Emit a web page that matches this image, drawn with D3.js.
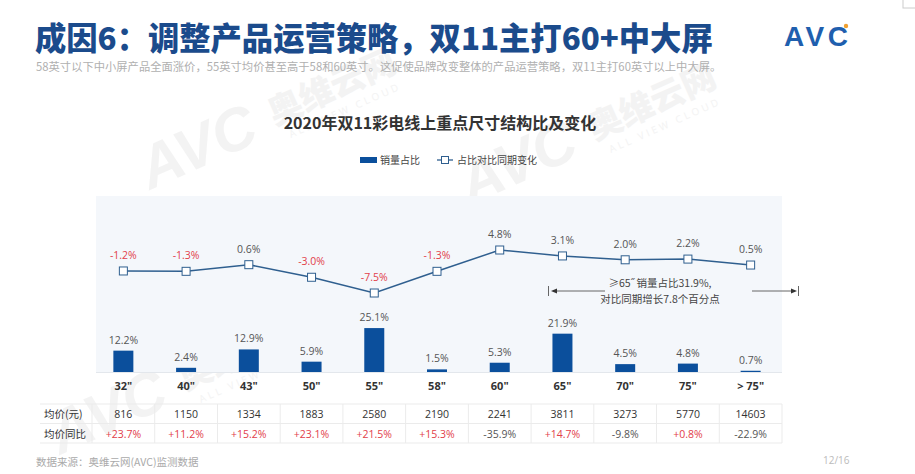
<!DOCTYPE html>
<html><head><meta charset="utf-8">
<script src="https://cdn.jsdelivr.net/npm/d3@7"></script>
<style>
html,body{margin:0;padding:0;background:#fff;}
svg{display:block;font-family:"Open Sans","Noto Sans CJK SC",sans-serif;}
</style></head>
<body>
<svg id="c" width="915" height="474"></svg>
<script>
const categories = ['32"','40"','43"','50"','55"','58"','60"','65"','70"','75"','> 75"'];
const share = [12.2,2.4,12.9,5.9,25.1,1.5,5.3,21.9,4.5,4.8,0.7];
const change = [-1.2,-1.3,0.6,-3.0,-7.5,-1.3,4.8,3.1,2.0,2.2,0.5];
const price = [816,1150,1334,1883,2580,2190,2241,3811,3273,5770,14603];
const priceYoY = [23.7,11.2,15.2,23.1,21.5,15.3,-35.9,14.7,-9.8,0.8,-22.9];
const rowLabels = ["均价(元)","均价同比"];

const svg = d3.select("#c");
const CJK = '"Noto Sans CJK SC",sans-serif';
const BLUE = "#0b4f9c", RED = "#e2404a", GRAY = "#555";

// watermarks
function watermark(x,y){
  const g = svg.append("g").attr("transform",`translate(${x},${y}) rotate(-24)`).attr("opacity",0.5);
  g.append("text").attr("x",0).attr("y",0).attr("font-size",60).attr("font-weight",900)
   .attr("font-style","italic").attr("fill","#e8e8e8").attr("font-family","Arial,sans-serif").text("AVC");
  g.append("text").attr("x",140).attr("y",-8).attr("font-size",34).attr("font-weight",900)
   .attr("fill","#e8e8e8").attr("font-family",CJK).text("奥维云网");
  g.append("text").attr("x",150).attr("y",10).attr("font-size",10).attr("letter-spacing",3)
   .attr("fill","#e8e8e8").text("ALL VIEW CLOUD");
}
watermark(150,190);
watermark(470,205);
watermark(60,455);

// header
svg.append("text").attr("x",35).attr("y",50).attr("font-size",31.3).attr("font-weight",900)
  .attr("fill","#1b4b8c").attr("font-family",CJK).text("成因6：调整产品运营策略，双11主打60+中大屏");
svg.append("text").attr("x",36).attr("y",71).attr("font-size",11.3).attr("fill","#b0b0b0")
  .attr("font-family",CJK).text("58英寸以下中小屏产品全面涨价，55英寸均价甚至高于58和60英寸。这促使品牌改变整体的产品运营策略，双11主打60英寸以上中大屏。");
// logo
svg.append("text").attr("x",784).attr("y",46).attr("font-size",28).attr("font-weight",900)
  .attr("fill","#1f5fae").attr("font-family","Arial,sans-serif").attr("letter-spacing",0).attr("textLength",64).text("AVC");
svg.append("circle").attr("cx",846).attr("cy",26).attr("r",2.2).attr("fill","#f0a030");
svg.append("rect").attr("x",903).attr("y",-1).attr("width",14).attr("height",9).attr("fill","none").attr("stroke","#ccc");

// chart title
svg.append("text").attr("x",440).attr("y",129).attr("text-anchor","middle").attr("font-size",16).attr("font-weight",700)
  .attr("fill","#333").attr("font-family",CJK).text("2020年双11彩电线上重点尺寸结构比及变化");

// legend
svg.append("rect").attr("x",360).attr("y",157).attr("width",17).attr("height",6).attr("fill",BLUE);
svg.append("text").attr("x",380).attr("y",164).attr("font-size",10).attr("fill","#444").attr("font-family",CJK).text("销量占比");
svg.append("line").attr("x1",437).attr("x2",453).attr("y1",160).attr("y2",160).attr("stroke","#2f5f8f").attr("stroke-width",1.3);
svg.append("rect").attr("x",441.5).attr("y",156.5).attr("width",7).attr("height",7).attr("fill","#fff").attr("stroke","#2f5f8f");
svg.append("text").attr("x",457).attr("y",164).attr("font-size",10).attr("fill","#444").attr("font-family",CJK).text("占比对比同期变化");

// scales
const x = d3.scalePoint().domain(categories).range([92,782]).padding(0.5);
const yBar = d3.scaleLinear().domain([0,30]).range([372,319.5]);
const yLine = d3.scaleLinear().domain([-7.5,4.8]).range([293,250]);

// panel
svg.append("rect").attr("x",96).attr("y",196).attr("width",686).attr("height",176).attr("fill","#f4f7fb");
svg.append("line").attr("x1",96).attr("x2",782).attr("y1",372.5).attr("y2",372.5).attr("stroke","#e3e7ec");

// bars
const bw = 20;
svg.selectAll(".bar").data(categories).join("rect").attr("class","bar")
  .attr("x",d=>x(d)-bw/2).attr("width",bw)
  .attr("y",(d,i)=>yBar(share[i])).attr("height",(d,i)=>yBar(0)-yBar(share[i]))
  .attr("fill",BLUE);
svg.selectAll(".blab").data(categories).join("text").attr("class","blab")
  .attr("x",d=>x(d)).attr("y",(d,i)=>yBar(share[i])-7).attr("text-anchor","middle")
  .attr("font-size",10.5).attr("fill",GRAY).text((d,i)=>share[i].toFixed(1)+"%");

// line
const line = d3.line().x((d,i)=>x(categories[i])).y(d=>yLine(d));
svg.append("path").datum(change).attr("d",line).attr("fill","none").attr("stroke","#2f5f8f").attr("stroke-width",1.5);
svg.selectAll(".mk").data(change).join("rect").attr("class","mk")
  .attr("x",(d,i)=>x(categories[i])-4).attr("y",d=>yLine(d)-4).attr("width",8).attr("height",8)
  .attr("fill","#fff").attr("stroke","#2f5f8f").attr("stroke-width",1);
svg.selectAll(".llab").data(change).join("text").attr("class","llab")
  .attr("x",(d,i)=>x(categories[i])).attr("y",d=>yLine(d)-12).attr("text-anchor","middle")
  .attr("font-size",10.5).attr("fill",d=>d<0?RED:GRAY).text(d=>d.toFixed(1)+"%");

// x labels
svg.selectAll(".xl").data(categories).join("text").attr("class","xl")
  .attr("x",d=>x(d)).attr("y",390).attr("text-anchor","middle").attr("font-size",11).attr("font-weight",700)
  .attr("fill","#333").text(d=>d);

// annotation
const ag = svg.append("g");
ag.append("text").attr("x",660).attr("y",287).attr("text-anchor","middle").attr("font-size",10.5).attr("fill","#444")
  .attr("font-family",CJK).text("≥65\u02DD 销量占比31.9%,");
ag.append("text").attr("x",660).attr("y",303).attr("text-anchor","middle").attr("font-size",10.5).attr("fill","#444")
  .attr("font-family",CJK).text("对比同期增长7.8个百分点");
ag.append("line").attr("x1",548.5).attr("x2",548.5).attr("y1",286).attr("y2",296).attr("stroke","#666");
ag.append("line").attr("x1",553).attr("x2",605).attr("y1",291).attr("y2",291).attr("stroke","#666");
ag.append("path").attr("d","M551,291 L557,288.5 L557,293.5 Z").attr("fill","#333");
ag.append("line").attr("x1",752).attr("x2",793).attr("y1",291).attr("y2",291).attr("stroke","#666");
ag.append("path").attr("d","M797,291 L791,288.5 L791,293.5 Z").attr("fill","#333");
ag.append("line").attr("x1",798.5).attr("x2",798.5).attr("y1",286).attr("y2",296).attr("stroke","#666");

// table
const tg = svg.append("g");
[404,423.5,443].forEach(yy=>tg.append("line").attr("x1",40).attr("x2",782).attr("y1",yy).attr("y2",yy).attr("stroke","#ebebeb"));
const step = x.step();
categories.forEach((c,i)=>{
  tg.append("line").attr("x1",x(c)-step/2).attr("x2",x(c)-step/2).attr("y1",404).attr("y2",443).attr("stroke","#ebebeb");
});
tg.append("line").attr("x1",782).attr("x2",782).attr("y1",404).attr("y2",443).attr("stroke","#ebebeb");
rowLabels.forEach((t,j)=>{
  tg.append("text").attr("x",44).attr("y",418+j*19.5).attr("font-size",10.5).attr("fill","#333")
    .attr("font-family",CJK).text(t);
});
tg.selectAll(".pv").data(price).join("text").attr("class","pv")
  .attr("x",(d,i)=>x(categories[i])).attr("y",418).attr("text-anchor","middle").attr("font-size",10.5).attr("fill","#333").text(d=>d);
tg.selectAll(".py").data(priceYoY).join("text").attr("class","py")
  .attr("x",(d,i)=>x(categories[i])).attr("y",437.5).attr("text-anchor","middle").attr("font-size",10.5)
  .attr("fill",d=>d>=0?RED:GRAY).text(d=>(d>=0?"+":"")+d.toFixed(1)+"%");

// footer
svg.append("text").attr("x",36).attr("y",466).attr("font-size",10.5).attr("fill","#aaa").attr("font-family",CJK).text("数据来源：奥维云网(AVC)监测数据");
svg.append("text").attr("x",823).attr("y",464).attr("font-size",10).attr("fill","#bbb").text("12/16");
</script>
</body></html>
